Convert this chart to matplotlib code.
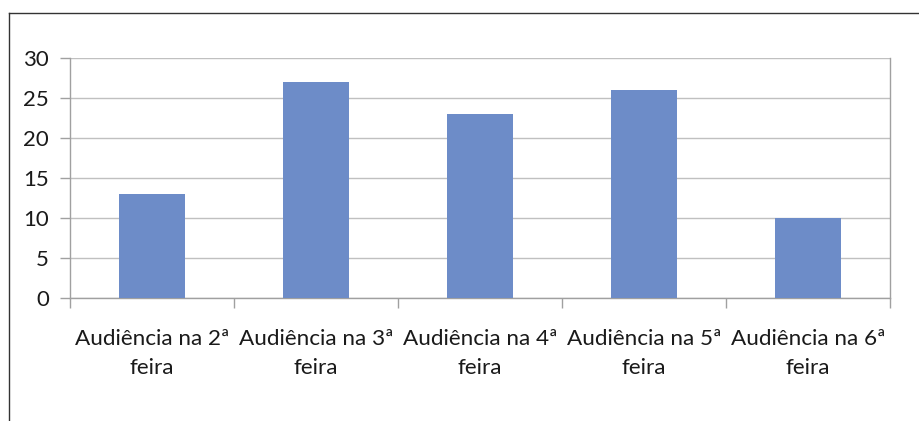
import matplotlib
matplotlib.use("Agg")
import matplotlib.pyplot as plt
from matplotlib.lines import Line2D
import numpy as np

categories = ["Audiência na 2ª\nfeira", "Audiência na 3ª\nfeira", "Audiência na 4ª\nfeira",
              "Audiência na 5ª\nfeira", "Audiência na 6ª\nfeira"]
values = [13, 27, 23, 26, 10]
yticks = [0, 5, 10, 15, 20, 25, 30]

plt.rcParams['font.family'] = ['Lato', 'DejaVu Sans']

fig = plt.figure(figsize=(9.19, 4.21), dpi=100)
ax = fig.add_axes([70/919, 1-298/421, 820/919, 240/421])

x = np.arange(len(categories))
ax.bar(x, values, width=0.4, color="#6D8CC8", zorder=3)
ax.set_xlim(-0.5, len(categories)-0.5)
ax.set_ylim(0, 30)
ax.set_yticks(yticks)
ax.set_yticklabels([str(v) for v in yticks], fontsize=16, color="#1a1a1a")
ax.set_xticks(x)
ax.set_xticklabels(categories, fontsize=16.2, color="#1a1a1a", linespacing=1.6)
ax.set_xticks(np.arange(-0.5, len(categories), 1.0), minor=True)
ax.tick_params(axis='x', which='major', length=0, pad=22)
ax.tick_params(axis='x', which='minor', length=7, color="#A0A0A0", width=1)
ax.tick_params(axis='y', length=7, color="#A0A0A0", width=1, pad=8)
ax.yaxis.grid(True, color="#C0C0C0", linewidth=1, zorder=0)
for s in ['left', 'bottom', 'right']:
    ax.spines[s].set_color("#A0A0A0")
    ax.spines[s].set_linewidth(1)
ax.spines['top'].set_visible(False)

# figure border (top and left)
fig.add_artist(Line2D([9/919, 1], [1-13/421, 1-13/421], transform=fig.transFigure, color="#333333", linewidth=1))
fig.add_artist(Line2D([9/919, 9/919], [0, 1-13/421], transform=fig.transFigure, color="#333333", linewidth=1))

fig.savefig("out.png", dpi=100)
